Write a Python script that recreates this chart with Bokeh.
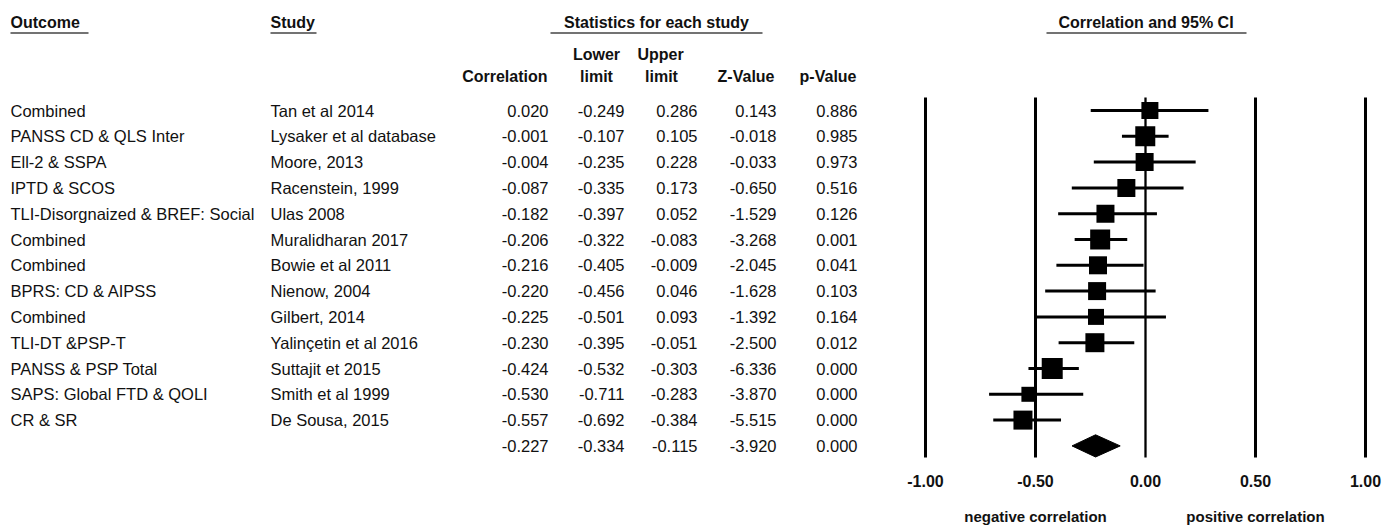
from bokeh.plotting import figure
from bokeh.models import Range1d
from bokeh.core.properties import value
from bokeh.embed import file_html
from bokeh.resources import INLINE

# ---------------- data ----------------
outcomes = ["Combined", "PANSS CD & QLS Inter", "Ell-2 & SSPA", "IPTD & SCOS",
            "TLI-Disorgnaized & BREF: Social", "Combined", "Combined",
            "BPRS: CD & AIPSS", "Combined", "TLI-DT &PSP-T", "PANSS & PSP Total",
            "SAPS: Global FTD & QOLI", "CR & SR"]
studies = ["Tan et al 2014", "Lysaker et al database", "Moore, 2013", "Racenstein, 1999",
           "Ulas 2008", "Muralidharan 2017", "Bowie et al 2011", "Nienow, 2004",
           "Gilbert, 2014", "Yalinçetin et al 2016", "Suttajit et 2015",
           "Smith et al 1999", "De Sousa, 2015"]
correlation = [0.020, -0.001, -0.004, -0.087, -0.182, -0.206, -0.216, -0.220,
               -0.225, -0.230, -0.424, -0.530, -0.557]
lower_limit = [-0.249, -0.107, -0.235, -0.335, -0.397, -0.322, -0.405, -0.456,
               -0.501, -0.395, -0.532, -0.711, -0.692]
upper_limit = [0.286, 0.105, 0.228, 0.173, 0.052, -0.083, -0.009, 0.046,
               0.093, -0.051, -0.303, -0.283, -0.384]
z_value = [0.143, -0.018, -0.033, -0.650, -1.529, -3.268, -2.045, -1.628,
           -1.392, -2.500, -6.336, -3.870, -5.515]
p_value = [0.886, 0.985, 0.973, 0.516, 0.126, 0.001, 0.041, 0.103,
           0.164, 0.012, 0.000, 0.000, 0.000]
weights = [17, 20, 18, 18, 18, 20, 18, 18, 16, 19, 21, 15, 19]  # marker size (px)

summary_corr = -0.227
summary_lower = -0.334
summary_upper = -0.115
summary_z = -3.920
summary_p = 0.000

ticks = [-1.0, -0.5, 0.0, 0.5, 1.0]
tick_labels = ["-1.00", "-0.50", "0.00", "0.50", "1.00"]
side_labels = ["negative correlation", "positive correlation"]
side_pos = [-0.5, 0.5]

# ---------------- layout constants ----------------
W, H = 1392, 526
ROW0, DY = 110.0, 25.8          # screen y of first row, row spacing
ZERO_X, PX_PER_UNIT = 1145.0, 220.0


def row_of(screen_y):
    return (screen_y - ROW0) / DY


FONT = value("Liberation Sans")
TXT = "#111111"
BODY = "16.5px"
HEAD = "16px"

p = figure(width=W, height=H, output_backend="svg", toolbar_location=None,
           x_range=Range1d(0, W),
           y_range=Range1d(row_of(H), row_of(0)),
           x_axis_location=None, y_axis_location=None, min_border=0)
p.extra_x_ranges = {"corr": Range1d((0 - ZERO_X) / PX_PER_UNIT, (W - ZERO_X) / PX_PER_UNIT)}
p.grid.visible = False
p.outline_line_color = None
p.background_fill_color = "white"
p.border_fill_color = "white"

n = len(studies)
rows = list(range(n))
all_rows = rows + [n]

# ---------------- headers ----------------
hy = row_of(22)
uy = row_of(32.5)
p.text(x=[10], y=[hy], text=["Outcome"], text_font=FONT, text_font_style="bold",
       text_font_size=HEAD, text_align="left", text_baseline="middle", text_color=TXT)
p.text(x=[270], y=[hy], text=["Study"], text_font=FONT, text_font_style="bold",
       text_font_size=HEAD, text_align="left", text_baseline="middle", text_color=TXT)
p.text(x=[656], y=[hy], text=["Statistics for each study"], text_font=FONT,
       text_font_style="bold", text_font_size=HEAD, text_align="center",
       text_baseline="middle", text_color=TXT)
p.text(x=[1145.5], y=[hy], text=["Correlation and 95% CI"], text_font=FONT,
       text_font_style="bold", text_font_size=HEAD, text_align="center",
       text_baseline="middle", text_color=TXT)
p.segment(x0=[10, 270, 550, 1046], x1=[88, 316, 762, 1246], y0=[uy] * 4, y1=[uy] * 4,
          line_color="#444444", line_width=1.6)

s1 = row_of(54)
s2 = row_of(76)
p.text(x=[596, 660], y=[s1, s1], text=["Lower", "Upper"], text_font=FONT,
       text_font_style="bold", text_font_size=HEAD, text_align="center",
       text_baseline="middle", text_color=TXT)
p.text(x=[596, 661], y=[s2, s2], text=["limit", "limit"], text_font=FONT,
       text_font_style="bold", text_font_size=HEAD, text_align="center",
       text_baseline="middle", text_color=TXT)
p.text(x=[547, 774, 856], y=[s2] * 3, text=["Correlation", "Z-Value", "p-Value"],
       text_font=FONT, text_font_style="bold", text_font_size=HEAD,
       text_align="right", text_baseline="middle", text_color=TXT)

# ---------------- table body ----------------
p.text(x=[10] * n, y=rows, text=outcomes, text_font=FONT, text_font_size=BODY,
       text_align="left", text_baseline="middle", text_color=TXT)
p.text(x=[270] * n, y=rows, text=studies, text_font=FONT, text_font_size=BODY,
       text_align="left", text_baseline="middle", text_color=TXT)

cols = [
    (548, correlation + [summary_corr]),
    (624, lower_limit + [summary_lower]),
    (697, upper_limit + [summary_upper]),
    (776, z_value + [summary_z]),
    (857, p_value + [summary_p]),
]
for cx, vals in cols:
    p.text(x=[cx] * len(vals), y=all_rows, text=[f"{v:.3f}" for v in vals],
           text_font=FONT, text_font_size=BODY, text_align="right",
           text_baseline="middle", text_color=TXT)

# ---------------- forest plot ----------------
ytop, ybot = row_of(97), row_of(457)
p.segment(x0=ticks, x1=ticks, y0=[ytop] * 5, y1=[ybot] * 5, line_color="black",
          line_width=[3, 3, 2.3, 3, 3], x_range_name="corr")

p.segment(x0=lower_limit, x1=upper_limit, y0=rows, y1=rows, line_color="black",
          line_width=3, x_range_name="corr")
p.scatter(x=correlation, y=rows, size=weights, marker="square", fill_color="black",
          line_color="black", line_width=0, x_range_name="corr")

hh = 0.43
p.patches(xs=[[summary_lower, summary_corr, summary_upper, summary_corr]],
          ys=[[n, n - hh, n, n + hh]], fill_color="black", line_color="black",
          x_range_name="corr")

p.text(x=ticks, y=[row_of(480)] * 5, text=tick_labels, text_font=FONT,
       text_font_style="bold", text_font_size="16px", text_align="center",
       text_baseline="middle", text_color=TXT, x_range_name="corr")
p.text(x=side_pos, y=[row_of(516)] * 2, text=side_labels, text_font=FONT,
       text_font_style="bold", text_font_size="15px", text_align="center",
       text_baseline="middle", text_color=TXT, x_range_name="corr")

open("out.html", "w").write(file_html(p, INLINE))
